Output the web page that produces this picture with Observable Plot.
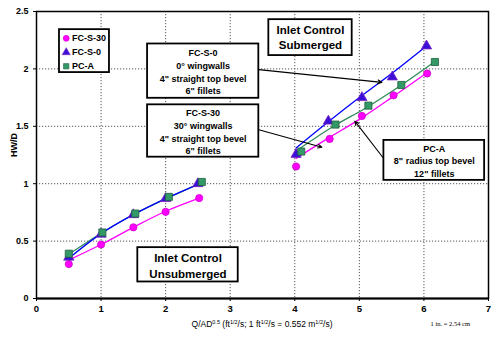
<!DOCTYPE html>
<html>
<head>
<meta charset="utf-8">
<script src="https://cdn.jsdelivr.net/npm/d3@7"></script>
<script src="https://cdn.jsdelivr.net/npm/@observablehq/plot@0.6"></script>
<style>
  html, body { margin: 0; padding: 0; background: white; }
  #chart svg { display: block; }
</style>
</head>
<body>
<div id="chart"></div>
<script>
// ---- axis ticks ----
const xTicks = [0, 1, 2, 3, 4, 5, 6, 7];
const yTicks = [0, 0.5, 1, 1.5, 2, 2.5];
const seriesNames = ["FC-S-30", "FC-S-0", "PC-A"];

// ---- measured points: unsubmerged ----
const fcs30UnsubX = [0.5, 1.0, 1.5, 2.0, 2.52];
const fcs30UnsubY = [0.30, 0.47, 0.62, 0.755, 0.875];
const fcs0UnsubX  = [0.5, 1.0, 1.5, 2.0, 2.5];
const fcs0UnsubY  = [0.36, 0.56, 0.73, 0.87, 1.0];
const pcaUnsubX   = [0.5, 1.02, 1.53, 2.05, 2.56];
const pcaUnsubY   = [0.39, 0.575, 0.74, 0.885, 1.015];

// ---- measured points: submerged ----
const fcs30SubX = [4.02, 4.54, 5.04, 5.53, 6.05];
const fcs30SubY = [1.15, 1.39, 1.59, 1.77, 1.96];
const fcs0SubX  = [4.02, 4.52, 5.04, 5.51, 6.04];
const fcs0SubY  = [1.255, 1.545, 1.75, 1.93, 2.20];
const pcaSubX   = [4.10, 4.63, 5.14, 5.65, 6.17];
const pcaSubY   = [1.28, 1.515, 1.68, 1.86, 2.06];

// ---- fitted curves ----
const fcs30FitUnsubX = [0.5, 1.0, 1.5, 2.0, 2.52];
const fcs30FitUnsubY = [0.335, 0.47, 0.62, 0.76, 0.875];
const fcs0FitUnsubX  = [0.5, 1.0, 1.5, 2.0, 2.55];
const fcs0FitUnsubY  = [0.35, 0.565, 0.73, 0.87, 1.005];
const pcaFitUnsubX   = [0.5, 1.02, 1.53, 2.05, 2.56];
const pcaFitUnsubY   = [0.385, 0.575, 0.74, 0.88, 1.01];

const fcs30FitSubX = [4.02, 4.5, 5.0, 5.5, 6.03];
const fcs30FitSubY = [1.22, 1.39, 1.56, 1.75, 1.96];
const fcs0FitSubX  = [4.02, 4.5, 5.0, 5.5, 6.04];
const fcs0FitSubY  = [1.31, 1.53, 1.75, 1.96, 2.20];
const pcaFitSubX   = [4.06, 4.6, 5.1, 5.6, 6.16];
const pcaFitSubY   = [1.30, 1.50, 1.66, 1.84, 2.06];

// ---- annotation boxes (data coordinates) ----
const boxX1 = [0.356, 1.72, 1.72, 3.598, 5.38, 1.569];
const boxX2 = [1.13, 3.443, 3.443, 4.889, 6.94, 3.124];
const boxY1 = [1.968, 1.744, 1.231, 2.116, 1.029, 0.144];
const boxY2 = [2.342, 2.217, 1.687, 2.429, 1.377, 0.443];

const noteText = [
  "FC-S-0\n0° wingwalls\n4\" straight top bevel\n6\" fillets",
  "FC-S-30\n30° wingwalls\n4\" straight top bevel\n6\" fillets",
  "PC-A\n8\" radius top bevel\n12\" fillets"
];
const noteX = [2.58, 2.58, 6.16];
const noteY = [1.98, 1.457, 1.203];

const regimeText = ["Inlet Control\nSubmerged", "Inlet Control\nUnsubmerged"];
const regimeX = [4.243, 2.346];
const regimeY = [2.279, 0.296];

// arrows from boxes to curves
const arrowX1 = [3.443, 3.443, 5.38];
const arrowY1 = [1.994, 1.47, 1.217];
const arrowX2 = [5.35, 4.42, 4.93];
const arrowY2 = [1.883, 1.318, 1.545];

// legend entries
const legendX = [0.46, 0.46, 0.46];
const legendY = [2.266, 2.144, 2.023];
const legendTextX = 0.55;

const colors = {"FC-S-30": "#ff00ff", "FC-S-0": "#0000ff", "PC-A": "#2e8b57"};
const fills = {"FC-S-30": "#ff00ff", "FC-S-0": "#3a10d8", "PC-A": "#339966"};
const strokes = {"FC-S-30": "#cc00cc", "FC-S-0": "#7a20c0", "PC-A": "#1e5e3e"};
const symbols = {"FC-S-30": "circle", "FC-S-0": "triangle", "PC-A": "square"};
const radii = {"FC-S-30": 3.6, "FC-S-0": 3.8, "PC-A": 4.0};

const zip = (xs, ys) => xs.map((x, i) => ({x, y: ys[i]}));

const fitLines = [
  ["FC-S-30", fcs30FitUnsubX, fcs30FitUnsubY], ["FC-S-30", fcs30FitSubX, fcs30FitSubY],
  ["PC-A", pcaFitUnsubX, pcaFitUnsubY], ["PC-A", pcaFitSubX, pcaFitSubY],
  ["FC-S-0", fcs0FitUnsubX, fcs0FitUnsubY], ["FC-S-0", fcs0FitSubX, fcs0FitSubY]
];
const pointSets = [
  ["FC-S-30", fcs30UnsubX, fcs30UnsubY], ["FC-S-30", fcs30SubX, fcs30SubY],
  ["FC-S-0", fcs0UnsubX, fcs0UnsubY], ["FC-S-0", fcs0SubX, fcs0SubY],
  ["PC-A", pcaUnsubX, pcaUnsubY], ["PC-A", pcaSubX, pcaSubY]
];

const boxes = boxX1.map((x1, i) => ({x1, x2: boxX2[i], y1: boxY1[i], y2: boxY2[i]}));
const notes = noteText.map((t, i) => ({t, x: noteX[i], y: noteY[i]}));
const regimes = regimeText.map((t, i) => ({t, x: regimeX[i], y: regimeY[i]}));
const arrows = arrowX1.map((x1, i) => ({x1, y1: arrowY1[i], x2: arrowX2[i], y2: arrowY2[i]}));
const legend = seriesNames.map((s, i) => ({s, x: legendX[i], y: legendY[i]}));

const marks = [
  Plot.gridX(xTicks.slice(1, -1), {stroke: "#555", strokeOpacity: 1, strokeDasharray: "1.2,1.8"}),
  Plot.gridY(yTicks.slice(1, -1), {stroke: "#555", strokeOpacity: 1, strokeDasharray: "1.2,1.8"}),
  Plot.axisX(xTicks, {tickSize: 3, tickPadding: 4, fontSize: 9.5, fontWeight: "bold", label: null}),
  Plot.axisY(yTicks, {tickSize: 3, tickPadding: 5, fontSize: 9, fontWeight: "bold", label: null, tickFormat: d => String(d)}),
  Plot.frame({stroke: "black", strokeWidth: 1.5}),
  Plot.ruleY([0], {stroke: "black", strokeWidth: 2.2})
];
for (const [s, xs, ys] of fitLines) {
  marks.push(Plot.line(zip(xs, ys), {x: "x", y: "y", stroke: colors[s], strokeWidth: 1.3, curve: "catmull-rom"}));
}
for (const [s, xs, ys] of pointSets) {
  marks.push(Plot.dot(zip(xs, ys), {x: "x", y: "y", symbol: symbols[s], r: radii[s], fill: fills[s], stroke: strokes[s], strokeWidth: 0.8}));
}
marks.push(
  Plot.arrow(arrows, {x1: "x1", y1: "y1", x2: "x2", y2: "y2", stroke: "black", strokeWidth: 1.1, headLength: 6, headAngle: 50}),
  Plot.rect(boxes, {x1: "x1", x2: "x2", y1: "y1", y2: "y2", fill: "white", stroke: "black", strokeWidth: 1.8}),
  Plot.text(notes, {x: "x", y: "y", text: "t", fontSize: 9, fontWeight: "bold", lineHeight: 1.4, fill: "black"}),
  Plot.text(regimes.slice(0, 1), {x: "x", y: "y", text: "t", fontSize: 11.5, fontWeight: "bold", lineHeight: 1.3, fill: "black"}),
  Plot.text(regimes.slice(1), {x: "x", y: "y", text: "t", fontSize: 11.5, fontWeight: "bold", lineHeight: 1.45, fill: "black"}),
  Plot.dot(legend, {x: "x", y: "y", symbol: d => symbols[d.s], r: 3, fill: d => fills[d.s], stroke: d => strokes[d.s], strokeWidth: 0.6}),
  Plot.text(legend, {x: legendTextX, y: "y", text: "s", textAnchor: "start", fontSize: 9, fontWeight: "bold", fill: "black"})
);

const chart = Plot.plot({
  width: 495,
  height: 341,
  marginLeft: 36,
  marginRight: 7,
  marginTop: 11,
  marginBottom: 43,
  x: {domain: [0, 7], label: null},
  y: {domain: [0, 2.5], label: null},
  symbol: {domain: ["circle", "triangle", "square"], range: ["circle", "triangle", "square"]},
  style: {fontFamily: "'Liberation Sans', Arial, sans-serif", background: "white", color: "black"},
  marks
});
document.getElementById("chart").appendChild(chart);

// axis titles with superscripts
const svg = d3.select(chart);
const xl = svg.append("text")
  .attr("x", 262).attr("y", 327)
  .attr("text-anchor", "middle")
  .attr("font-size", 8.5)
  .attr("font-family", "'Liberation Sans', Arial, sans-serif")
  .attr("fill", "black");
const parts = [["Q/AD", false], ["0.5", true], [" (ft", false], ["1/2", true], ["/s; 1 ft", false], ["1/2", true], ["/s = 0.552 m", false], ["1/2", true], ["/s)", false]];
let prevSup = false;
for (const [t, sup] of parts) {
  const dy = sup ? -3.5 : (prevSup ? 3.5 : 0);
  xl.append("tspan").attr("font-size", sup ? 5.5 : 8.5).attr("dy", dy).text(t);
  prevSup = sup;
}
svg.append("text")
  .attr("transform", "translate(16.5,145) rotate(-90)")
  .attr("text-anchor", "middle")
  .attr("font-size", 9).attr("font-weight", "bold")
  .attr("font-family", "'Liberation Sans', Arial, sans-serif")
  .attr("fill", "black")
  .text("HW/D");
svg.append("text")
  .attr("x", 470).attr("y", 326)
  .attr("text-anchor", "end")
  .attr("font-size", 6.5)
  .attr("font-family", "'Liberation Serif', 'Times New Roman', serif")
  .attr("fill", "black")
  .text("1 in. = 2.54 cm");
</script>
</body>
</html>
